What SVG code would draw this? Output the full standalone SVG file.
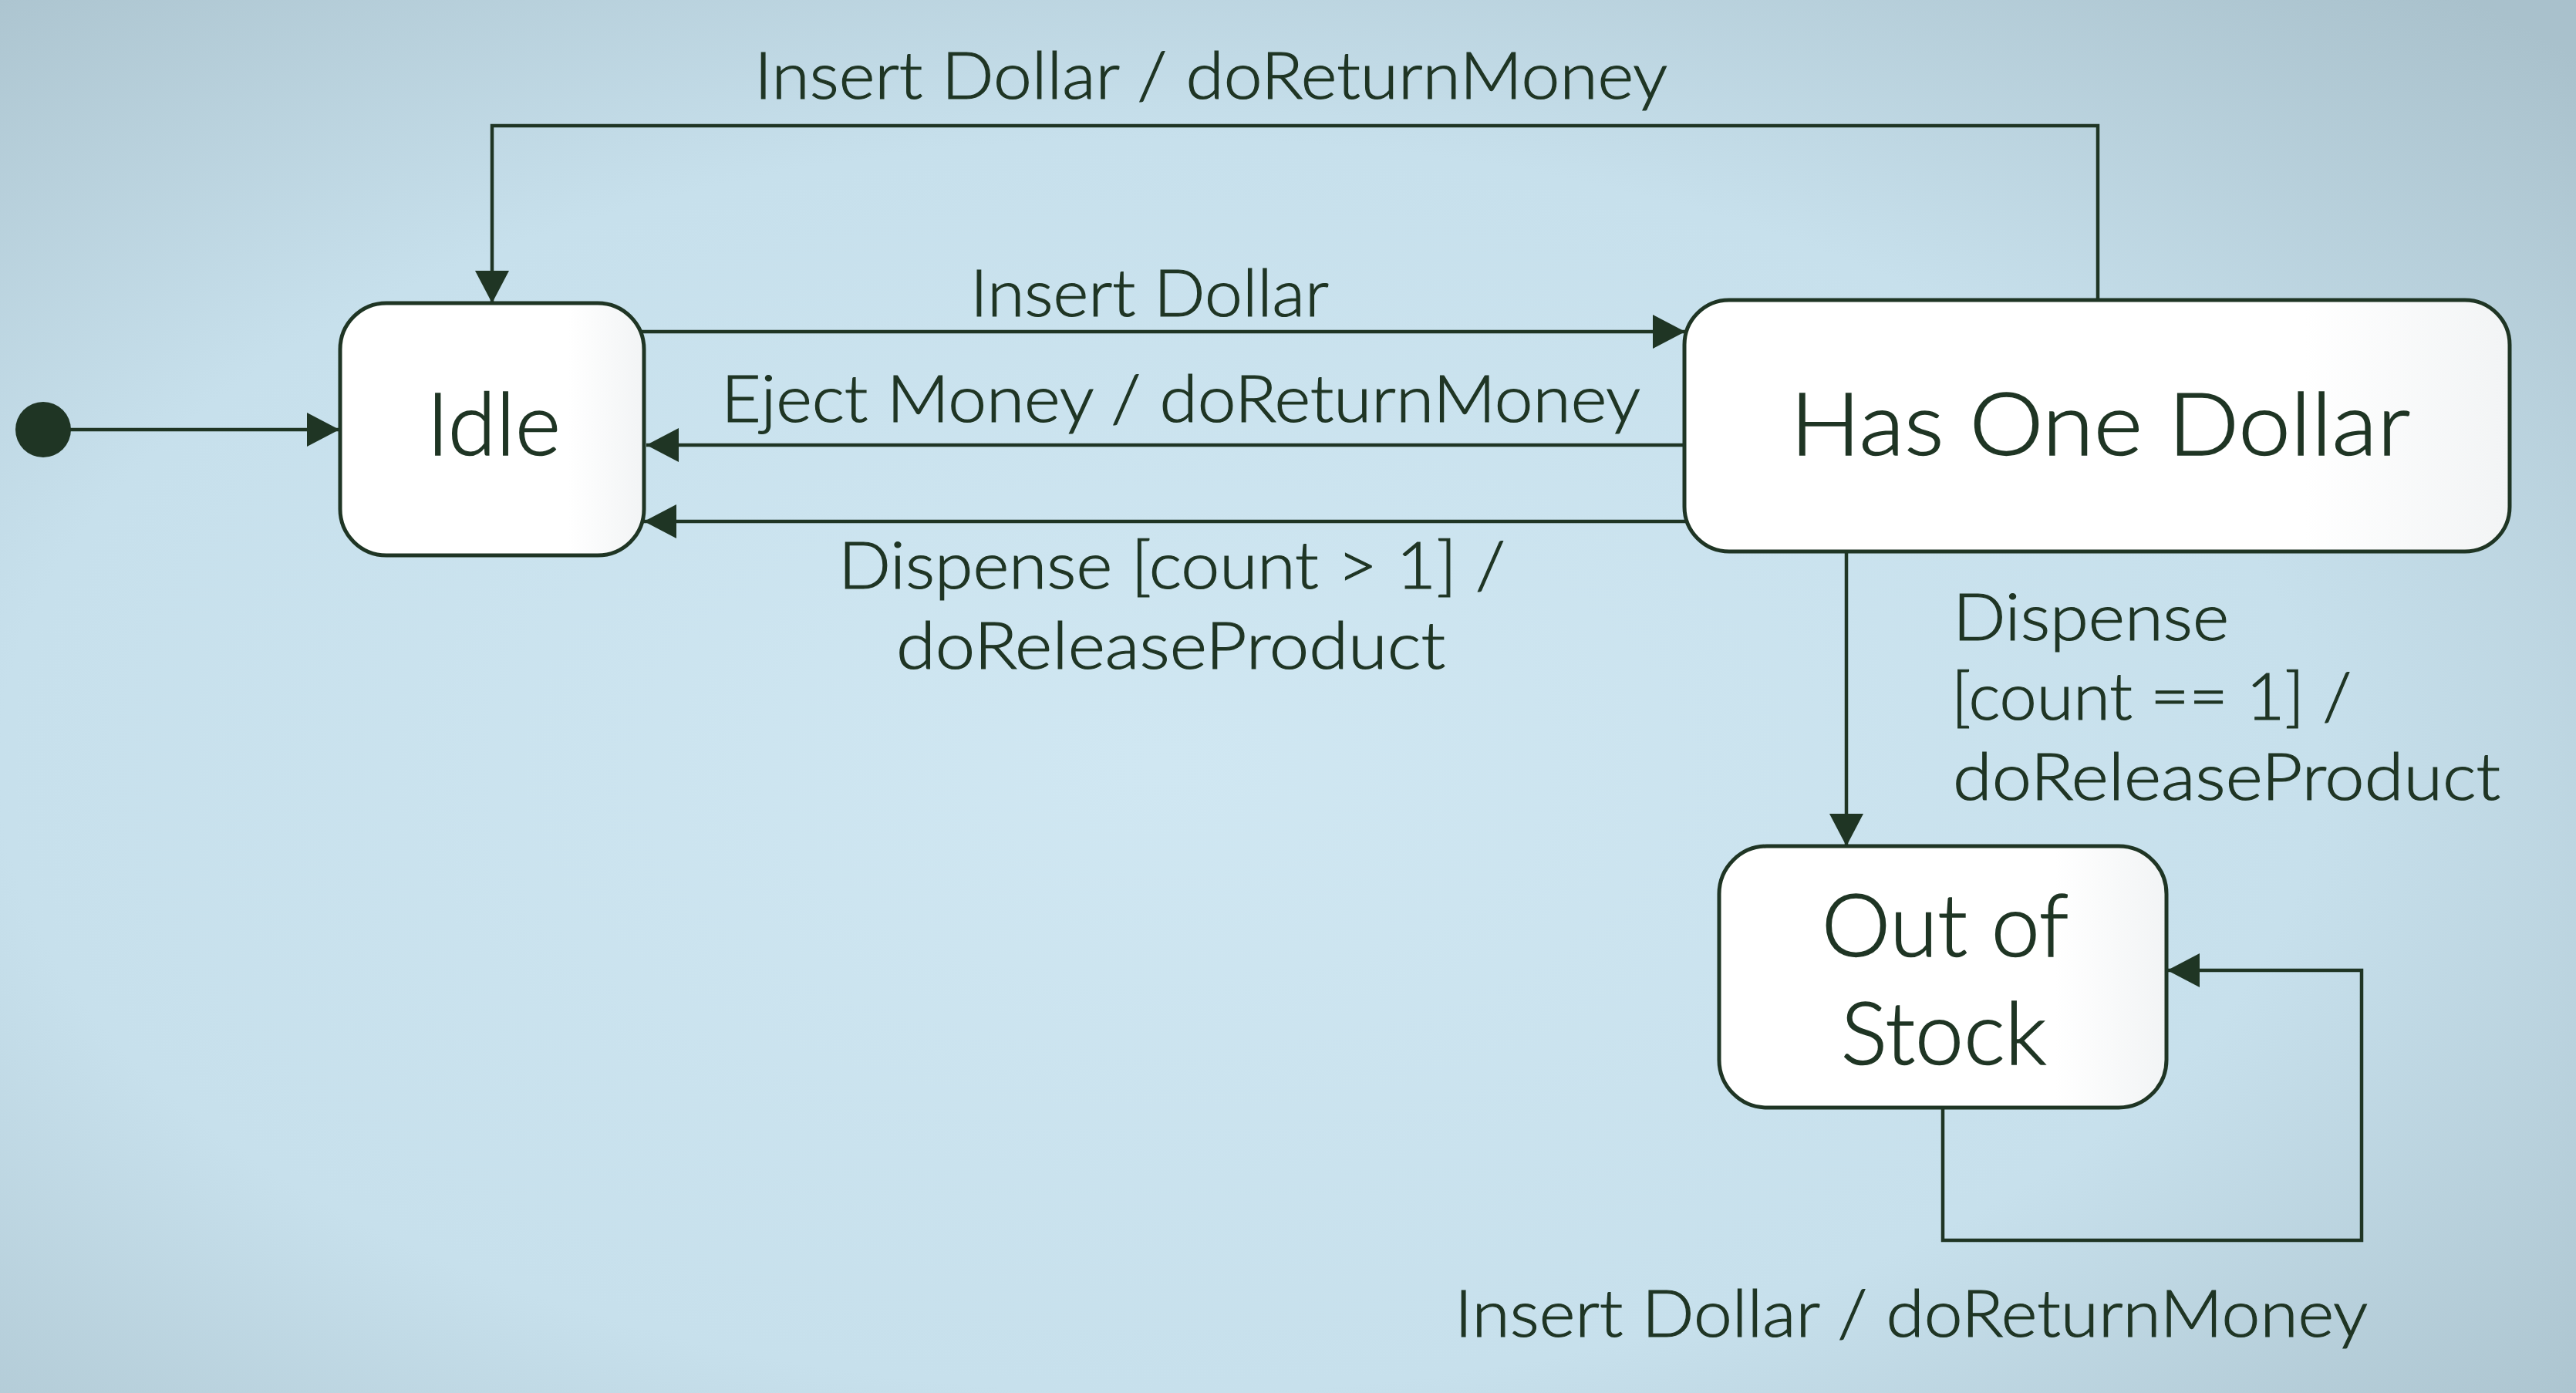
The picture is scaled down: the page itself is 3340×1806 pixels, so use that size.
<svg xmlns="http://www.w3.org/2000/svg" width="3340" height="1806" viewBox="0 0 3340 1806">
  <defs>
    <radialGradient id="bg" cx="0.45" cy="0.55" r="0.75">
      <stop offset="0" stop-color="#d0e7f2"/>
      <stop offset="0.6" stop-color="#c7e0ec"/>
      <stop offset="1" stop-color="#a9c1cc"/>
    </radialGradient>
    <linearGradient id="boxfill" x1="0" y1="0" x2="1" y2="0">
      <stop offset="0" stop-color="#ffffff"/>
      <stop offset="0.75" stop-color="#ffffff"/>
      <stop offset="1" stop-color="#f2f4f5"/>
    </linearGradient>
    <marker id="arrow" markerUnits="userSpaceOnUse" markerWidth="44" markerHeight="46" refX="42" refY="22" orient="auto">
      <path d="M0,0 L42,22 L0,44 Z" fill="#1f3524"/>
    </marker>
  </defs>
  <style>
    .state { fill: url(#boxfill); stroke: #1f3524; stroke-width: 5; }
    .conn { fill: none; stroke: #1f3524; stroke-width: 4.5; }
    .lbl { font-family: Lato, "Liberation Sans", sans-serif; font-weight: 300; font-size: 84px; fill: #1f3524; stroke: #1f3524; stroke-width: 1.2; }
    .name { font-family: Lato, "Liberation Sans", sans-serif; font-weight: 300; font-size: 113px; fill: #1f3524; stroke: #1f3524; stroke-width: 1.5; text-anchor: middle; }
  </style>
  <rect x="0" y="0" width="3340" height="1806" fill="url(#bg)"/>

  <g id="connectors">
    <path class="conn" d="M90,557 H440" marker-end="url(#arrow)"/>
    <path class="conn" d="M2720,389 V163 H638 V393" marker-end="url(#arrow)"/>
    <path class="conn" d="M831,430 H2185" marker-end="url(#arrow)"/>
    <path class="conn" d="M2185,577 H838" marker-end="url(#arrow)"/>
    <path class="conn" d="M2186,676 H835" marker-end="url(#arrow)"/>
    <path class="conn" d="M2394,716 V1097" marker-end="url(#arrow)"/>
    <path class="conn" d="M2519,1436 V1608 H3062 V1258 H2810" marker-end="url(#arrow)"/>
  </g>

  <g id="labels">
    <text class="lbl" x="978" y="128" textLength="1184" lengthAdjust="spacingAndGlyphs">Insert Dollar / doReturnMoney</text>
    <text class="lbl" x="1258" y="410" textLength="465" lengthAdjust="spacingAndGlyphs">Insert Dollar</text>
    <text class="lbl" x="935" y="547" textLength="1192" lengthAdjust="spacingAndGlyphs">Eject Money / doReturnMoney</text>
    <text class="lbl" x="1087" y="763" textLength="865" lengthAdjust="spacingAndGlyphs">Dispense [count &gt; 1] /</text>
    <text class="lbl" x="1162" y="867" textLength="712" lengthAdjust="spacingAndGlyphs">doReleaseProduct</text>
    <text class="lbl" x="2532" y="830" textLength="358" lengthAdjust="spacingAndGlyphs">Dispense</text>
    <text class="lbl" x="2530" y="933" textLength="519" lengthAdjust="spacingAndGlyphs">[count == 1] /</text>
    <text class="lbl" x="2532" y="1037" textLength="710" lengthAdjust="spacingAndGlyphs">doReleaseProduct</text>
    <text class="lbl" x="1886" y="1733" textLength="1184" lengthAdjust="spacingAndGlyphs">Insert Dollar / doReturnMoney</text>
  </g>

  <g id="initial">
    <circle cx="56" cy="557" r="36" fill="#1f3524"/>
  </g>

  <g id="idle">
    <rect class="state" x="441" y="393" width="394" height="327" rx="60" ry="60"/>
    <text class="name" x="640" y="590">Idle</text>
  </g>

  <g id="has-one-dollar">
    <rect class="state" x="2184" y="389" width="1070" height="326" rx="58" ry="58"/>
    <text class="name" x="2723" y="590" textLength="804" lengthAdjust="spacingAndGlyphs">Has One Dollar</text>
  </g>

  <g id="out-of-stock">
    <rect class="state" x="2229" y="1097" width="580" height="339" rx="62" ry="62"/>
    <text class="name" x="2522" y="1240">Out of</text>
    <text class="name" x="2520" y="1380">Stock</text>
  </g>
</svg>
